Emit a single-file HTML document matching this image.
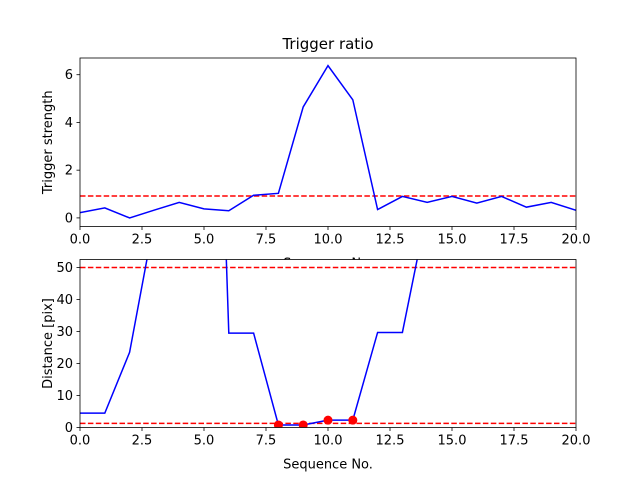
<!DOCTYPE html>
<html><head><meta charset="utf-8"><style>
body{margin:0;background:#fff}
svg{display:block;font-family:"DejaVu Sans","Liberation Sans",sans-serif}
</style></head><body>
<svg id="chart" width="640" height="480" viewBox="0 0 640 480">
<rect width="640" height="480" fill="#fff"/>
<defs>
<clipPath id="c1"><rect x="80" y="58" width="496" height="168.5"/></clipPath>
<clipPath id="c2"><rect x="80" y="259.5" width="496" height="168"/></clipPath>
</defs>
<g id="g1"></g>
<g id="g2"></g>
</svg>
<script>
const seqX = [0,1,2,3,4,5,6,7,8,9,10,11,12,13,14,15,16,17,18,19,20];
const triggerVals = [0.22,0.42,0.0,0.33,0.65,0.38,0.3,0.95,1.03,4.65,6.38,4.95,0.35,0.9,0.65,0.9,0.62,0.9,0.45,0.65,0.32];
const triggerThresh = [0.92];
const distVals = [4.5,4.5,23.5,65,120,260,29.5,29.5,0.8,0.8,2.3,2.3,29.7,29.7,68,100,100,100,100,100,100];
const distThresh = [50,1.3];
const hitX = [8,9,10,11];
const hitVals = [0.8,0.8,2.3,2.3];
const xTicks = [0,2.5,5,7.5,10,12.5,15,17.5,20];
const yTicks1 = [0,2,4,6];
const yTicks2 = [0,10,20,30,40,50];

const NS="http://www.w3.org/2000/svg";
function mk(p,t,a){const e=document.createElementNS(NS,t);for(const k in a)e.setAttribute(k,a[k]);p.appendChild(e);return e;}
const L=80,R=576;
const sx=v=>L+(v-0)/(20-0)*(R-L);
function axes(g,top,bot,ymin,ymax,yt,clip,vals,th,ylabel,xlabel,name){
  const sy=v=>bot-(v-ymin)/(ymax-ymin)*(bot-top);
  const bg=mk(g,'rect',{x:L,y:top,width:R-L,height:bot-top,fill:'#fff'});
  
  
  const cg=mk(g,'g',{'clip-path':'url(#'+clip+')'});
  th.forEach(t=>{const l=mk(cg,'line',{x1:L,x2:R,y1:sy(t),y2:sy(t),stroke:'#ff0000','stroke-width':1.5,'stroke-dasharray':'5.5,2.4'});
    
    });
  const p=mk(cg,'polyline',{points:vals.map((v,i)=>sx(seqX[i])+','+sy(v)).join(' '),fill:'none',stroke:'#0000ff','stroke-width':1.5});
  
  
  const fr=mk(g,'rect',{x:L,y:top,width:R-L,height:bot-top,fill:'none',stroke:'#000','stroke-width':0.8});
  
  
  xTicks.forEach(t=>{mk(g,'line',{x1:sx(t),x2:sx(t),y1:bot,y2:bot+3.5,stroke:'#000','stroke-width':0.8});
    const tx=mk(g,'text',{x:sx(t),y:bot+17,'font-size':13,'text-anchor':'middle',fill:'#000'});tx.textContent=t.toFixed(1);
    
    });
  yt.forEach(t=>{mk(g,'line',{x1:L,x2:L-3.5,y1:sy(t),y2:sy(t),stroke:'#000','stroke-width':0.8});
    const tx=mk(g,'text',{x:L-7,y:sy(t)+4.5,'font-size':13,'text-anchor':'end',fill:'#000'});tx.textContent=t;
    
    });
  const yl=mk(g,'text',{x:0,y:0,'font-size':13,'text-anchor':'middle',transform:'translate(52,'+((top+bot)/2)+') rotate(-90)'});yl.textContent=ylabel;
  
  
  const xl=mk(g,'text',{x:(L+R)/2,y:bot+41,'font-size':13,'text-anchor':'middle'});xl.textContent=xlabel;
  
  
  return {sy,cg};
}
const g1=document.getElementById('g1'),g2=document.getElementById('g2');
axes(g1,58,226.5,-0.36,6.7,yTicks1,'c1',triggerVals,triggerThresh,'Trigger strength','Sequence No.','top');
const t=mk(g1,'text',{x:328,y:49,'font-size':15,'text-anchor':'middle'});t.textContent='Trigger ratio';


const b=axes(g2,259.5,427.5,0,52.5,yTicks2,'c2',distVals,distThresh,'Distance [pix]','Sequence No.','bottom');
hitX.forEach((x,i)=>{const c=mk(b.cg,'circle',{cx:sx(x),cy:b.sy(hitVals[i]),r:4.5,fill:'#ff0000'});
  
  });
</script>
</body></html>
